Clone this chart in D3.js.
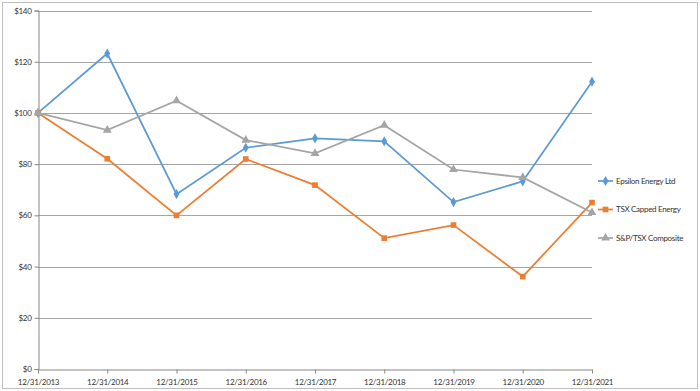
<!DOCTYPE html>
<html>
<head>
<meta charset="utf-8">
<script src="https://cdn.jsdelivr.net/npm/d3@7"></script>
<style>
  body { margin: 0; background: #fff; }
  svg text { font-family: Lato, "Open Sans", sans-serif; fill: #333; letter-spacing: -0.3px; }
</style>
</head>
<body>
<div id="chart"></div>
<script>
// Data
const dates = ["12/31/2013", "12/31/2014", "12/31/2015", "12/31/2016", "12/31/2017",
               "12/31/2018", "12/31/2019", "12/31/2020", "12/31/2021"];
const epsilon = [100, 123.2, 68.3, 86.4, 90.1, 88.9, 65.2, 73.3, 112.2];
const tsxEnergy = [100, 82.1, 60.0, 82.0, 71.8, 51.1, 56.2, 36.1, 65.0];
const spTsx = [100, 93.3, 104.8, 89.4, 84.2, 95.2, 77.9, 74.8, 61.1];
const yTicks = [0, 20, 40, 60, 80, 100, 120, 140];

const series = [
    { name: "Epsilon Energy Ltd", values: epsilon, color: "#5b9bd5", symbol: d3.symbolDiamond, size: 30 },
    { name: "TSX Capped Energy", values: tsxEnergy, color: "#ed7d31", symbol: d3.symbolSquare, size: 32 },
    { name: "S&P/TSX Composite", values: spTsx, color: "#a5a5a5", symbol: d3.symbolTriangle, size: 34 }
];

const width = 700, height = 391;
const margin = { top: 10.5, right: 108, bottom: 22, left: 38 };
const fontSize = 8;

const svg = d3.select("#chart")
    .append("svg")
    .attr("width", width)
    .attr("height", height);

// outer frame
svg.append("rect")
    .attr("x", 2.5).attr("y", 2.5)
    .attr("width", width - 5).attr("height", height - 5)
    .attr("fill", "none")
    .attr("stroke", "#bfbfbf");

const xScale = d3.scalePoint()
    .domain(dates)
    .range([margin.left, width - margin.right]);

const yScale = d3.scaleLinear()
    .domain([0, 140])
    .range([height - margin.bottom, margin.top]);

// gridlines
svg.append("g")
    .selectAll("line")
    .data(yTicks.filter(t => t > 0))
    .enter().append("line")
    .attr("x1", margin.left)
    .attr("x2", width - margin.right)
    .attr("y1", d => Math.round(yScale(d)) + 0.5)
    .attr("y2", d => Math.round(yScale(d)) + 0.5)
    .attr("stroke", "#a6a6a6")
    .attr("stroke-width", 1);

// y axis
const yAxis = svg.append("g")
    .attr("transform", `translate(${margin.left + 0.5},0)`)
    .call(d3.axisLeft(yScale).tickValues(yTicks).tickSize(4).tickFormat(d => "$" + d));
yAxis.select(".domain").attr("stroke", "#868686");
yAxis.selectAll(".tick line").attr("stroke", "#868686");
yAxis.selectAll("text").attr("font-size", fontSize).attr("fill", "#333").attr("font-family", null);

// x axis
const xAxis = svg.append("g")
    .attr("transform", `translate(0,${Math.round(yScale(0)) + 0.5})`)
    .call(d3.axisBottom(xScale).tickSize(4).tickSizeOuter(0).tickPadding(6));
xAxis.select(".domain").attr("stroke", "#868686");
xAxis.selectAll(".tick line").attr("stroke", "#868686");
xAxis.selectAll("text").attr("font-size", fontSize).attr("fill", "#333").attr("font-family", null);

// lines and markers
const line = d3.line()
    .x((d, i) => xScale(dates[i]))
    .y(d => yScale(d));

series.forEach(s => {
    svg.append("path")
        .datum(s.values)
        .attr("fill", "none")
        .attr("stroke", s.color)
        .attr("stroke-width", 1.75)
        .attr("d", line);

    svg.append("g")
        .selectAll("path")
        .data(s.values)
        .enter().append("path")
        .attr("transform", (d, i) => `translate(${xScale(dates[i])},${yScale(d)})`)
        .attr("d", d3.symbol().type(s.symbol).size(s.size))
        .attr("fill", s.color);
});

// legend
const legend = svg.append("g");
const legendY = [181, 209.5, 238];
series.forEach((s, i) => {
    const g = legend.append("g").attr("transform", `translate(598,${legendY[i]})`);
    g.append("line")
        .attr("x1", 0).attr("x2", 15)
        .attr("stroke", s.color)
        .attr("stroke-width", 1.75);
    g.append("path")
        .attr("transform", "translate(7.5,0)")
        .attr("d", d3.symbol().type(s.symbol).size(s.size))
        .attr("fill", s.color);
    g.append("text")
        .attr("x", 18)
        .attr("dy", "0.35em")
        .attr("font-size", fontSize)
        .text(s.name);
});
</script>
</body>
</html>
